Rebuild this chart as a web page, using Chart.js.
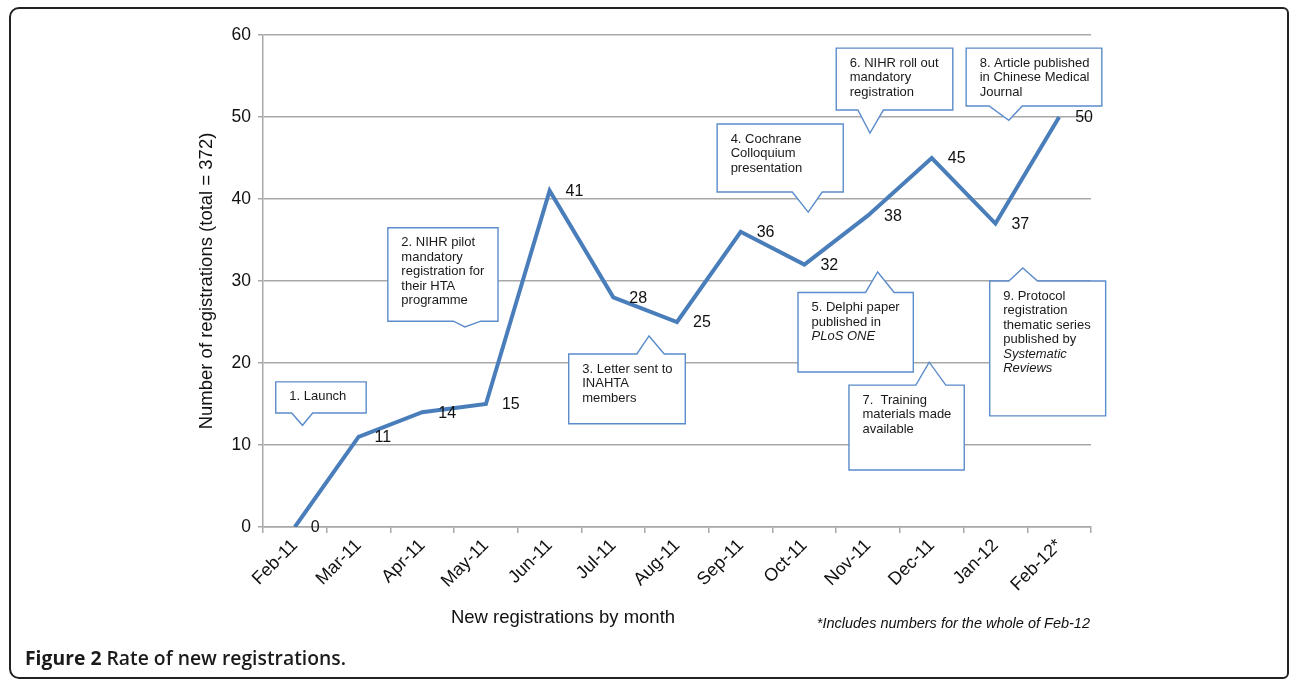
<!DOCTYPE html>
<html lang="en">
<head>
<meta charset="UTF-8">
<title>Rate of new registrations</title>
<script src="https://cdn.jsdelivr.net/npm/chart.js"></script>
<style>
  body { margin: 0; background: #fff; font-family: "Liberation Sans", Arial, sans-serif; }
  #wrap { position: relative; width: 1292px; height: 679px; overflow: hidden; }
  #chart { position: absolute; left: 0; top: 0; }
  .frame { position: absolute; left: 9px; top: 7px; width: 1280px; height: 672px; box-sizing: border-box;
           border: 2px solid #222; border-radius: 10px 6px 6px 10px; pointer-events: none; }
  .caption { position: absolute; left: 25px; top: 645px; white-space: nowrap; color: #1a1a1a;
             font-family: "Open Sans", sans-serif; font-size: 19px; transform-origin: left top; }
  .caption b { font-weight: 700; }
  .caption span { font-weight: 600; }
</style>
</head>
<body>
<div id="wrap">
  <canvas id="chart" width="1292" height="679"></canvas>
  <div class="frame"></div>
  <div class="caption" id="caption"><b>Figure 2</b> <span>Rate of new registrations.</span></div>
</div>

<script>
  // data
  const months = ['Feb-11', 'Mar-11', 'Apr-11', 'May-11', 'Jun-11', 'Jul-11', 'Aug-11',
                  'Sep-11', 'Oct-11', 'Nov-11', 'Dec-11', 'Jan-12', 'Feb-12*'];
  const registrations = [0, 11, 14, 15, 41, 28, 25, 36, 32, 38, 45, 37, 50];
  const yMin = 0, yMax = 60, yStep = 10;

  const yTitle = 'Number of registrations (total = 372)';
  const xTitle = 'New registrations by month';
  const footnote = '*Includes numbers for the whole of Feb-12';

  // callouts, in axis units (x = category index, y = value)
  const callouts = [
    { lines: ['1. Launch'], box: [-0.30, 1.12, 17.7, 13.9], side: 'bottom', base: [-0.05, 0.28], tip: [0.12, 12.4] },
    { lines: ['2. NIHR pilot', 'mandatory', 'registration for', 'their HTA', 'programme'],
      box: [1.46, 3.19, 36.5, 25.1], side: 'bottom', base: [2.49, 2.92], tip: [2.67, 24.4] },
    { lines: ['3. Letter sent to', 'INAHTA', 'members'],
      box: [4.30, 6.13, 21.1, 12.6], side: 'top', base: [5.37, 5.80], tip: [5.56, 23.3] },
    { lines: ['4. Cochrane', 'Colloquium', 'presentation'],
      box: [6.63, 8.61, 49.15, 40.85], side: 'bottom', base: [7.81, 8.28], tip: [8.06, 38.4] },
    { lines: ['5. Delphi paper', 'published in', { t: 'PLoS ONE', i: true }],
      box: [7.90, 9.71, 28.6, 18.9], side: 'top', base: [8.96, 9.41], tip: [9.15, 31.1] },
    { lines: ['6. NIHR roll out', 'mandatory', 'registration'],
      box: [8.50, 10.33, 58.4, 50.85], side: 'bottom', base: [8.84, 9.24], tip: [9.03, 48.05] },
    { lines: ['7.  Training', 'materials made', 'available'],
      box: [8.70, 10.51, 17.3, 6.95], side: 'top', base: [9.75, 10.22], tip: [9.96, 20.1] },
    { lines: ['8. Article published', 'in Chinese Medical', 'Journal'],
      box: [10.54, 12.67, 58.4, 51.35], side: 'bottom', base: [10.90, 11.42], tip: [11.21, 49.6] },
    { lines: ['9. Protocol', 'registration', 'thematic series', 'published by',
              { t: 'Systematic', i: true }, { t: 'Reviews', i: true }],
      box: [10.91, 12.73, 30.0, 13.55], side: 'top', base: [11.21, 11.66], tip: [11.43, 31.6] }
  ];

  const FONT = '"Liberation Sans", Arial, sans-serif';
  const lineBlue = '#4a7ebb';
  const boxBlue = '#5b8ccb';
  const gridGrey = '#a8a8a8';

  const overlay = {
    id: 'overlay',
    afterDatasetsDraw(chart) {
      const { ctx, chartArea } = chart;
      const xs = chart.scales.x, ys = chart.scales.y;
      const X = v => xs.getPixelForValue(v);
      const Y = v => ys.getPixelForValue(v);

      // value labels right of each point
      const meta = chart.getDatasetMeta(0);
      ctx.save();
      ctx.font = '16px ' + FONT;
      ctx.fillStyle = '#111';
      ctx.textAlign = 'left';
      ctx.textBaseline = 'middle';
      meta.data.forEach((pt, i) => {
        ctx.fillText(String(registrations[i]), pt.x + 16, pt.y + 1);
      });
      ctx.restore();

      // callout boxes
      callouts.forEach(c => {
        const x1 = X(c.box[0]), x2 = X(c.box[1]);
        const yt = Y(c.box[2]), yb = Y(c.box[3]);
        const b1 = X(c.base[0]), b2 = X(c.base[1]);
        const tx = X(c.tip[0]), ty = Y(c.tip[1]);
        ctx.save();
        ctx.beginPath();
        if (c.side === 'top') {
          ctx.moveTo(x1, yt); ctx.lineTo(b1, yt); ctx.lineTo(tx, ty); ctx.lineTo(b2, yt);
          ctx.lineTo(x2, yt); ctx.lineTo(x2, yb); ctx.lineTo(x1, yb);
        } else {
          ctx.moveTo(x1, yt); ctx.lineTo(x2, yt); ctx.lineTo(x2, yb); ctx.lineTo(b2, yb);
          ctx.lineTo(tx, ty); ctx.lineTo(b1, yb); ctx.lineTo(x1, yb);
        }
        ctx.closePath();
        ctx.fillStyle = '#fff';
        ctx.fill();
        ctx.lineWidth = 1.4;
        ctx.strokeStyle = boxBlue;
        ctx.stroke();

        ctx.fillStyle = '#1a1a1a';
        ctx.textAlign = 'left';
        ctx.textBaseline = 'middle';
        c.lines.forEach((ln, k) => {
          const italic = typeof ln === 'object';
          ctx.font = (italic ? 'italic ' : '') + '13px ' + FONT;
          ctx.fillText(italic ? ln.t : ln, x1 + 13.5, yt + 15 + k * 14.5);
        });
        ctx.restore();
      });

      // x axis title and footnote
      ctx.save();
      ctx.fillStyle = '#111';
      ctx.textBaseline = 'middle';
      ctx.font = '18.5px ' + FONT;
      ctx.textAlign = 'center';
      ctx.fillText(xTitle, chartArea.left + 300, chartArea.bottom + 91);
      ctx.font = 'italic 14.5px ' + FONT;
      ctx.textAlign = 'right';
      ctx.fillText(footnote, chartArea.right - 1, chartArea.bottom + 97);
      ctx.restore();
    }
  };

  new Chart(document.getElementById('chart'), {
    type: 'line',
    data: {
      labels: months,
      datasets: [{
        data: registrations,
        borderColor: lineBlue,
        borderWidth: 4,
        borderJoinStyle: 'miter',
        pointRadius: 0,
        tension: 0,
        fill: false
      }]
    },
    options: {
      responsive: false,
      animation: false,
      layout: { padding: { left: 190, top: 35, right: 201, bottom: 0 } },
      plugins: { legend: { display: false }, tooltip: { enabled: false } },
      scales: {
        x: {
          type: 'category',
          offset: true,
          afterFit: s => { s.height = 152; },
          grid: { offset: true, drawOnChartArea: false, drawTicks: true, tickLength: 6, color: gridGrey, lineWidth: 1.5 },
          border: { display: true, color: gridGrey, width: 1.5 },
          ticks: { autoSkip: false, minRotation: 45, maxRotation: 45, padding: 2, color: '#111', font: { family: FONT, size: 18 } }
        },
        y: {
          min: yMin,
          max: yMax,
          afterFit: s => { s.width = 73; },
          grid: { color: gridGrey, lineWidth: 1.5, tickLength: 5 },
          border: { display: true, color: gridGrey, width: 1.5 },
          ticks: { stepSize: yStep, padding: 7, color: '#111', font: { family: FONT, size: 17.5 } },
          title: { display: true, text: yTitle, color: '#111', font: { family: FONT, size: 18.5 }, padding: { top: 6, bottom: 0 } }
        }
      }
    },
    plugins: [overlay]
  });

  // squeeze the caption to the width it has in the figure
  const cap = document.getElementById('caption');
  cap.style.transform = 'scaleX(' + (321 / cap.getBoundingClientRect().width) + ')';
</script>
</body>
</html>
